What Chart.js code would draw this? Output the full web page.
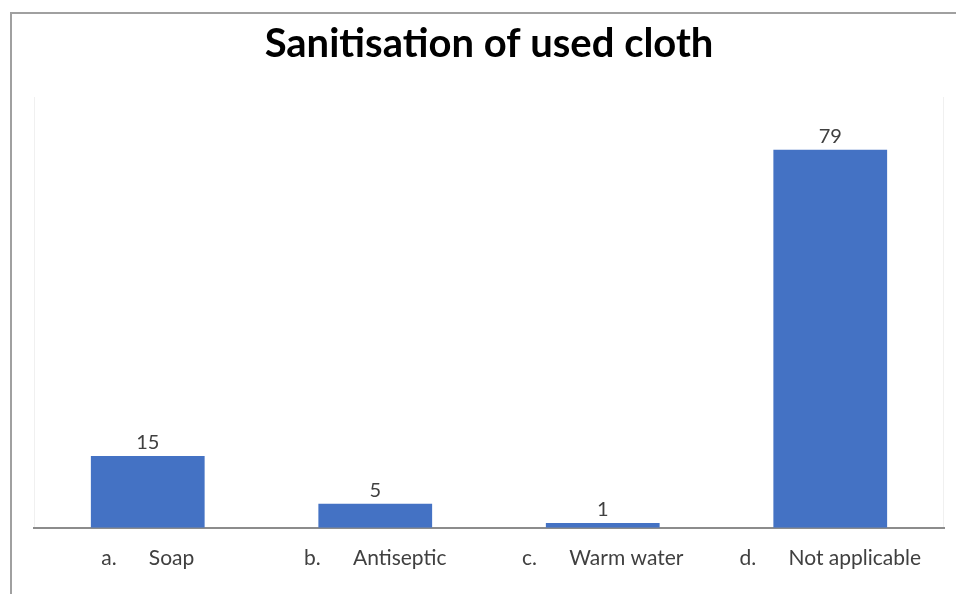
<!DOCTYPE html>
<html>
<head>
<meta charset="utf-8">
<script src="https://cdn.jsdelivr.net/npm/chart.js@4"></script>
<style>
  html, body { margin: 0; padding: 0; background: #fff; }
  #wrap { width: 956px; height: 594px; }
</style>
</head>
<body>
<div id="wrap"><canvas id="clothChart" width="956" height="594"></canvas></div>
<script>
// --- Data ---
const categories = ['a.      Soap', 'b.      Antiseptic', 'c.      Warm water', 'd.      Not applicable'];
const counts = [15, 5, 1, 79];
const chartTitle = 'Sanitisation of used cloth';

const fontFamily = "Lato, 'Open Sans', sans-serif";

// frame lines (top + left) and faint plot border
const framePlugin = {
    id: 'frame',
    beforeDraw(chart) {
        const ctx = chart.ctx;
        const area = chart.chartArea;
        ctx.save();
        ctx.fillStyle = '#fff';
        ctx.fillRect(0, 0, chart.width, chart.height);
        ctx.strokeStyle = '#a0a0a0';
        ctx.lineWidth = 2;
        ctx.beginPath();
        ctx.moveTo(11, chart.height);
        ctx.lineTo(11, 13);
        ctx.lineTo(chart.width, 13);
        ctx.stroke();
        ctx.strokeStyle = '#f0f0f0';
        ctx.lineWidth = 1;
        ctx.beginPath();
        ctx.moveTo(area.left + 0.5, area.top);
        ctx.lineTo(area.left + 0.5, area.bottom);
        ctx.moveTo(area.right - 0.5, area.top);
        ctx.lineTo(area.right - 0.5, area.bottom);
        ctx.stroke();
        ctx.restore();
    }
};

// value labels above bars
const valueLabels = {
    id: 'valueLabels',
    afterDatasetsDraw(chart) {
        const ctx = chart.ctx;
        const meta = chart.getDatasetMeta(0);
        ctx.save();
        ctx.font = `20px ${fontFamily}`;
        ctx.fillStyle = '#404040';
        ctx.textAlign = 'center';
        ctx.textBaseline = 'bottom';
        meta.data.forEach((bar, i) => {
            ctx.fillText(String(counts[i]), bar.x, bar.y - 3);
        });
        ctx.restore();
    }
};

new Chart(document.getElementById('clothChart'), {
    type: 'bar',
    data: {
        labels: categories,
        datasets: [{
            data: counts,
            backgroundColor: '#4472c4',
            barPercentage: 0.5,
            categoryPercentage: 1
        }]
    },
    options: {
        responsive: false,
        animation: false,
        layout: { padding: { left: 34, right: 12, top: 20, bottom: 5 } },
        plugins: {
            legend: { display: false },
            tooltip: { enabled: false },
            title: {
                display: true,
                text: chartTitle,
                color: '#000',
                font: { family: fontFamily, size: 40, weight: 'bold' },
                padding: { top: 0, bottom: 29 }
            }
        },
        scales: {
            x: {
                grid: { display: false, drawTicks: false },
                border: { display: true, color: '#8c8c8c', width: 2 },
                ticks: {
                    color: '#404040',
                    padding: 18,
                    font: { family: fontFamily, size: 21 }
                }
            },
            y: {
                display: false,
                min: 0,
                max: 90
            }
        }
    },
    plugins: [framePlugin, valueLabels]
});
</script>
</body>
</html>
